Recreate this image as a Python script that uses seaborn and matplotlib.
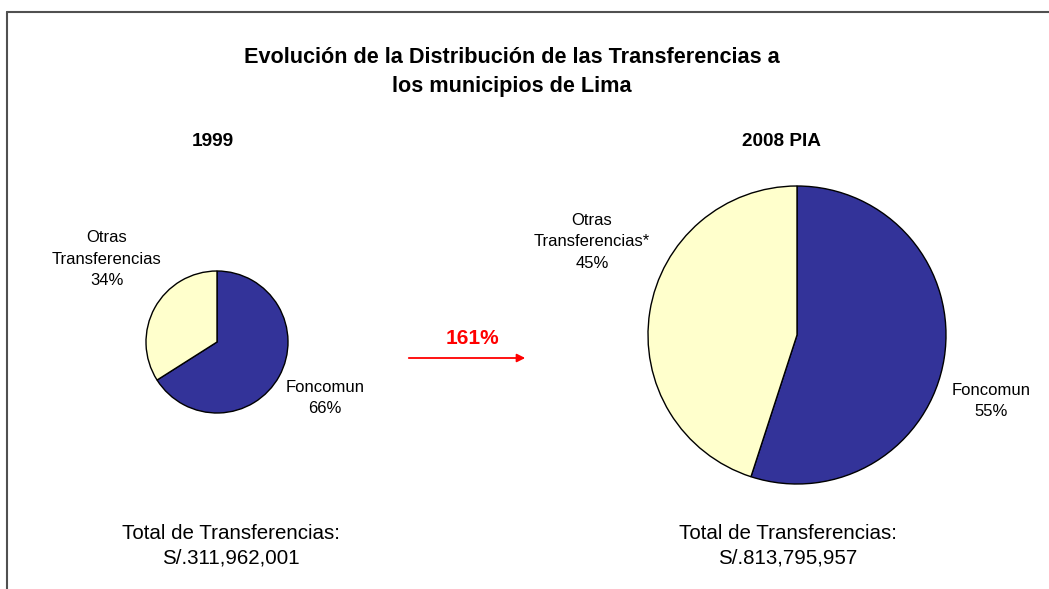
"""  Evolucion de la distribucion de las transferencias a los municipios de Lima  """
import matplotlib.pyplot as plt
from matplotlib.lines import Line2D
import seaborn as sns

# ~~~~~~~~~  Data  ~~~~~~~~~~~~~~~~~~~~~~~~~~~~~~~~~~~~~~~~~~~~~~~~~~~~~~~~~~~~~~~ #
years = ['1999', '2008 PIA']
categories = ['Foncomun', 'Otras\nTransferencias']
shares_1999 = [66, 34]
shares_2008 = [55, 45]
label_suffix = ['', '*']  # the 2008 "Otras" label carries an asterisk
totals = [311962001, 813795957]
colors = ['#333399', '#FFFFCC']

# ~~~~~~~~~  Figure setup  ~~~~~~~~~~~~~~~~~~~~~~~~~~~~~~~~~~~~~~~~~~~~~~~~~~~~~~~~ #
sns.set_theme(style='white')
plt.rcParams['font.family'] = ['Liberation Sans', 'DejaVu Sans']
plt.rcParams['text.color'] = 'black'

W, H = 1049, 589
fig = plt.figure(figsize=(W / 100, H / 100), dpi=100)
ax = fig.add_axes([0, 0, 1, 1])


def Y(y):  # pixel row (from top) -> data y
    return H - y


# ~~~~~~~~~  Pies  ~~~~~~~~~~~~~~~~~~~~~~~~~~~~~~~~~~~~~~~~~~~~~~~~~~~~~~~~~~~~~~~~ #
# (center x, center y, radius) in pixels, per year
pie_layout = [(217, 342, 71), (797, 335, 149)]
# label positions per year: (Foncomun x, y), (Otras x, y)
label_layout = [[(325, 398), (107, 259)], [(991, 401), (592, 242)]]

for shares, suffix_list, (cx, cy, r), labpos in zip(
        [shares_1999, shares_2008], [['', ''], label_suffix], pie_layout, label_layout):
    ax.pie(shares, colors=colors, startangle=90, counterclock=False,
           center=(cx, Y(cy)), radius=r,
           wedgeprops=dict(edgecolor='black', linewidth=1.0))
    for name, share, suffix, (lx, ly) in zip(categories, shares, suffix_list, labpos):
        ax.text(lx, Y(ly), f'{name}{suffix}\n{share}%', ha='center', va='center',
                fontsize=12, linespacing=1.55, color='black')

ax.set_xlim(0, W)
ax.set_ylim(0, H)
ax.set_aspect('equal')
ax.axis('off')

# ~~~~~~~~~  Titles  ~~~~~~~~~~~~~~~~~~~~~~~~~~~~~~~~~~~~~~~~~~~~~~~~~~~~~~~~~~~~~~ #
ax.text(512, Y(72), 'Evolución de la Distribución de las Transferencias a\nlos municipios de Lima',
        ha='center', va='center', fontsize=15.6, fontweight='bold', linespacing=1.55)

for year, x in zip(years, [213, 782]):
    ax.text(x, Y(142), year, ha='center', va='center', fontsize=13.7, fontweight='bold')

# ~~~~~~~~~  Totals  ~~~~~~~~~~~~~~~~~~~~~~~~~~~~~~~~~~~~~~~~~~~~~~~~~~~~~~~~~~~~~~ #
for total, x in zip(totals, [231, 788]):
    ax.text(x, Y(546), f'Total de Transferencias:\nS/.{total:,}', ha='center', va='center',
            fontsize=14.8, linespacing=1.36)

# ~~~~~~~~~  Growth arrow  ~~~~~~~~~~~~~~~~~~~~~~~~~~~~~~~~~~~~~~~~~~~~~~~~~~~~~~~~ #
growth = totals[1] / totals[0] - 1
ax.annotate('', xy=(528, Y(358)), xytext=(406, Y(358)),
            arrowprops=dict(arrowstyle='-|>', color='red', lw=1.3, mutation_scale=12))
ax.text(472, Y(338), f'{growth:.0%}', ha='center', va='center', color='red',
        fontsize=15, fontweight='bold')

# ~~~~~~~~~  Frame (top and left edges)  ~~~~~~~~~~~~~~~~~~~~~~~~~~~~~~~~~~~~~~~~~~ #
fig.add_artist(Line2D([6.5 / W, 1], [1 - 11.5 / H, 1 - 11.5 / H], color='#505050', lw=1.5))
fig.add_artist(Line2D([6.5 / W, 6.5 / W], [0, 1 - 11.5 / H], color='#505050', lw=1.5))

fig.savefig('out.png', dpi=100)
